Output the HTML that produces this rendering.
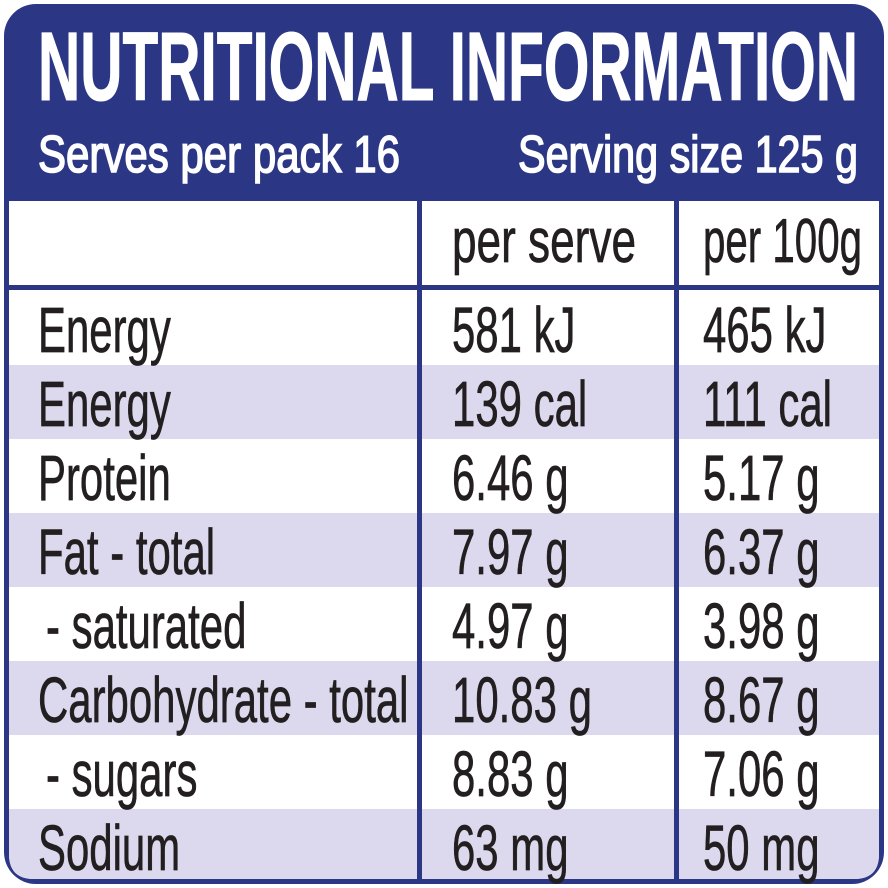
<!DOCTYPE html>
<html><head><meta charset="utf-8"><style>
html,body{margin:0;padding:0;background:#fff;width:888px;height:888px;overflow:hidden}
svg{display:block}
text{font-family:"Liberation Sans",sans-serif;fill:#231f20;stroke:#231f20;stroke-width:0.7}
</style></head><body>
<svg id="label" width="888" height="888" viewBox="0 0 888 888" xmlns="http://www.w3.org/2000/svg">
  <defs><clipPath id="inner"><path d="M9 201 H879 V854 Q879 879 854 879 H34 Q9 879 9 854 Z"/></clipPath></defs>
  <rect x="4" y="4" width="880" height="880" rx="32" fill="#2b3784"/>
  <path d="M9 201 H879 V854 Q879 879 854 879 H34 Q9 879 9 854 Z" fill="#fff"/>
  <g id="rows" clip-path="url(#inner)"></g>
  <rect x="9" y="285" width="870" height="5" fill="#2b3784"/>
  <rect x="417" y="201" width="5" height="680" fill="#2b3784"/>
  <rect x="674" y="201" width="5" height="680" fill="#2b3784"/>
  <text x="38" y="100" font-size="97" font-weight="bold" style="fill:#fff;stroke:#fff;stroke-width:1" textLength="820" lengthAdjust="spacingAndGlyphs">NUTRITIONAL INFORMATION</text>
  <text x="38" y="172" font-size="52" style="fill:#fff;stroke:#fff;stroke-width:1.6" textLength="362" lengthAdjust="spacingAndGlyphs">Serves per pack 16</text>
  <text x="518" y="172" font-size="52" style="fill:#fff;stroke:#fff;stroke-width:1.6" textLength="340" lengthAdjust="spacingAndGlyphs">Serving size 125 g</text>
  <text x="452" y="262" font-size="62" textLength="184" lengthAdjust="spacingAndGlyphs">per serve</text>
  <text x="703" y="262" font-size="62" textLength="159" lengthAdjust="spacingAndGlyphs">per 100g</text>
  <g id="texts"></g>
</svg>
<script>
const nutrients=["Energy","Energy","Protein","Fat - total"," - saturated","Carbohydrate - total"," - sugars","Sodium"];
const perServe=["581 kJ","139 cal","6.46 g","7.97 g","4.97 g","10.83 g","8.83 g","63 mg"];
const per100g=["465 kJ","111 cal","5.17 g","6.37 g","3.98 g","8.67 g","7.06 g","50 mg"];
const NS="http://www.w3.org/2000/svg";
const rowsG=document.getElementById('rows'),textsG=document.getElementById('texts');
const top0=290,rowH=74;
const cw=document.createElement('canvas').getContext('2d');
cw.font='64px "Liberation Sans"';
function addText(str,x,y,name){
  const t=document.createElementNS(NS,'text');
  
  
  const lead=str.startsWith(' ');
  const s=str.trim();
  t.setAttribute('x',x+(lead?8:0));t.setAttribute('y',y);t.setAttribute('font-size','64');
  const w=cw.measureText(s).width*0.655;
  t.setAttribute('textLength',w.toFixed(1));
  t.setAttribute('lengthAdjust','spacingAndGlyphs');
  t.textContent=s;textsG.appendChild(t);
}
nutrients.forEach((n,i)=>{
  const y=top0+i*rowH;
  if(i%2===1){
    const r=document.createElementNS(NS,'rect');
    
    
    r.setAttribute('x',9);r.setAttribute('y',y+1);r.setAttribute('width',870);r.setAttribute('height',rowH);
    r.setAttribute('fill','#dcd9ee');rowsG.appendChild(r);
  }
  const b=y+62;
  addText(n,38,b,'nutrient-name');
  addText(perServe[i],452,b,'per-serve-value');
  addText(per100g[i],703,b,'per-100g-value');
});
</script>
</body></html>
